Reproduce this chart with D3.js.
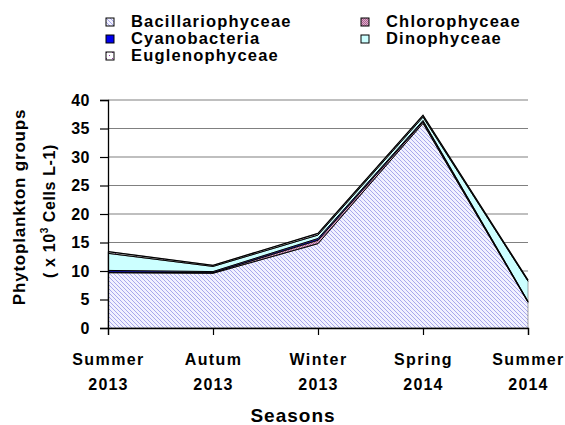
<!DOCTYPE html>
<html><head><meta charset="utf-8">
<script src="https://cdn.jsdelivr.net/npm/d3@7"></script>
<style>body{margin:0;background:#fff}svg{display:block}text{font-family:"Liberation Sans",Arial,sans-serif;font-weight:bold;fill:#000}</style>
</head><body><svg id="c" width="565" height="425"></svg>
<script>
const categories = ["Summer 2013","Autum 2013","Winter 2013","Spring 2014","Summer 2014"];
const catLine1 = ["Summer","Autum","Winter","Spring","Summer"];
const catLine2 = ["2013","2013","2013","2014","2014"];
const seriesNames = ["Bacillariophyceae","Chlorophyceae","Cyanobacteria","Dinophyceae","Euglenophyceae"];
const bacillariophyceae = [9.7, 9.6, 14.8, 35.9, 4.5];
const chlorophyceae     = [0.1, 0.1, 0.6, 0.3, 0.1];
const cyanobacteria     = [0.3, 0.2, 0.3, 0.2, 0.1];
const dinophyceae       = [3.0, 0.9, 0.6, 0.6, 3.5];
const euglenophyceae    = [0.3, 0.2, 0.3, 0.3, 0.2];
const yTicks = [0,5,10,15,20,25,30,35,40];

const svg = d3.select("#c");
const defs = svg.append("defs");
const pB = defs.append("pattern").attr("id","pB").attr("width",4).attr("height",4).attr("patternUnits","userSpaceOnUse");
pB.append("rect").attr("width",4).attr("height",4).attr("fill","#f2f2ff");
pB.append("path").attr("d","M0,0L4,4M-1,3L1,5M3,-1L5,1").attr("stroke","#a9a9ec").attr("stroke-width",1);
const pC = defs.append("pattern").attr("id","pC").attr("width",2).attr("height",2).attr("patternUnits","userSpaceOnUse");
pC.append("rect").attr("width",2).attr("height",2).attr("fill","#e2a8cc");
pC.append("rect").attr("width",1).attr("height",1).attr("fill","#a86890");
pC.append("rect").attr("x",1).attr("y",1).attr("width",1).attr("height",1).attr("fill","#a86890");
const pE = defs.append("pattern").attr("id","pE").attr("width",6).attr("height",6).attr("patternUnits","userSpaceOnUse");
pE.append("rect").attr("width",6).attr("height",6).attr("fill","#fff");
pE.append("rect").attr("x",1).attr("y",1).attr("width",1).attr("height",1).attr("fill","#9933aa");
pE.append("rect").attr("x",4).attr("y",4).attr("width",1).attr("height",1).attr("fill","#9933aa");
const fills = ["url(#pB)","url(#pC)","#0000ee","#ccffff","url(#pE)"];

const x = d3.scalePoint().domain(categories).range([108,528]);
const y = d3.scaleLinear().domain([0,40]).range([328,100]);

const table = categories.map((c,i)=>({cat:c,
  "Bacillariophyceae":bacillariophyceae[i],"Chlorophyceae":chlorophyceae[i],
  "Cyanobacteria":cyanobacteria[i],"Dinophyceae":dinophyceae[i],"Euglenophyceae":euglenophyceae[i]}));
const stacked = d3.stack().keys(seriesNames)(table);

svg.append("g").selectAll("line").data(yTicks.filter(v=>v>0)).join("line")
  .attr("x1",108).attr("x2",528).attr("y1",d=>y(d)).attr("y2",d=>y(d))
  .attr("stroke","#808080").attr("stroke-width",1.2);

const area = d3.area().x(d=>x(d.data.cat)).y0(d=>y(d[0])).y1(d=>y(d[1]));
const line = d3.line().x(d=>x(d.data.cat)).y(d=>y(d[1]));
svg.append("g").selectAll("path").data(stacked).join("path")
  .attr("d",area).attr("fill",(d,i)=>fills[i]).attr("stroke","#666").attr("stroke-width",0.6);
svg.append("g").selectAll("path").data(stacked).join("path")
  .attr("d",line).attr("fill","none").attr("stroke","#000").attr("stroke-width",(d,i)=>i===4?1.3:1);

const yAxis = svg.append("g").attr("transform","translate(108,0)")
  .call(d3.axisLeft(y).tickValues(yTicks).tickSize(8).tickPadding(10));
const xAxis = svg.append("g").attr("transform","translate(0,328)")
  .call(d3.axisBottom(x).tickSize(7).tickFormat(""));
[yAxis,xAxis].forEach(a=>{a.select(".domain").attr("stroke","#000").attr("stroke-width",1.3);
  a.selectAll(".tick line").attr("stroke","#000").attr("stroke-width",1.2);});
yAxis.selectAll(".tick text").style("font-size","16px").style("letter-spacing","0.5px")
  .attr("font-family",null).attr("fill","#000");
xAxis.selectAll(".tick").append("text").attr("y",37).attr("text-anchor","middle")
  .style("font-size","16px").style("letter-spacing","1.4px").text((d,i)=>catLine1[i]);
xAxis.selectAll(".tick").append("text").attr("y",62).attr("text-anchor","middle")
  .style("font-size","16px").style("letter-spacing","1.2px").text((d,i)=>catLine2[i]);

svg.append("text").attr("x",293).attr("y",422).attr("text-anchor","middle")
  .style("font-size","19px").style("letter-spacing","1px").text("Seasons");
svg.append("text").attr("transform","translate(25,207) rotate(-90)").attr("text-anchor","middle")
  .style("font-size","17px").style("letter-spacing","0.8px").text("Phytoplankton groups");
const t2 = svg.append("text").attr("transform","translate(55,211) rotate(-90)").attr("text-anchor","middle")
  .style("font-size","16px").style("letter-spacing","0.6px");
t2.append("tspan").text("( x 10");
t2.append("tspan").attr("dy",-7).style("font-size","10px").text("3");
t2.append("tspan").attr("dy",7).text(" Cells L-1)");

const legPos = [[106,18],[361,18],[106,35],[361,35],[106,52]];
const leg = svg.append("g");
seriesNames.forEach((name,k)=>{
  const [lx,ly]=legPos[k];
  leg.append("rect").attr("x",lx).attr("y",ly).attr("width",8).attr("height",8)
    .attr("fill",fills[k]).attr("stroke","#000").attr("stroke-width",1);
  leg.append("text").attr("x",lx+25).attr("y",ly+9).style("font-size","16.5px")
    .style("letter-spacing","1.2px").text(name);
});
</script></body></html>
